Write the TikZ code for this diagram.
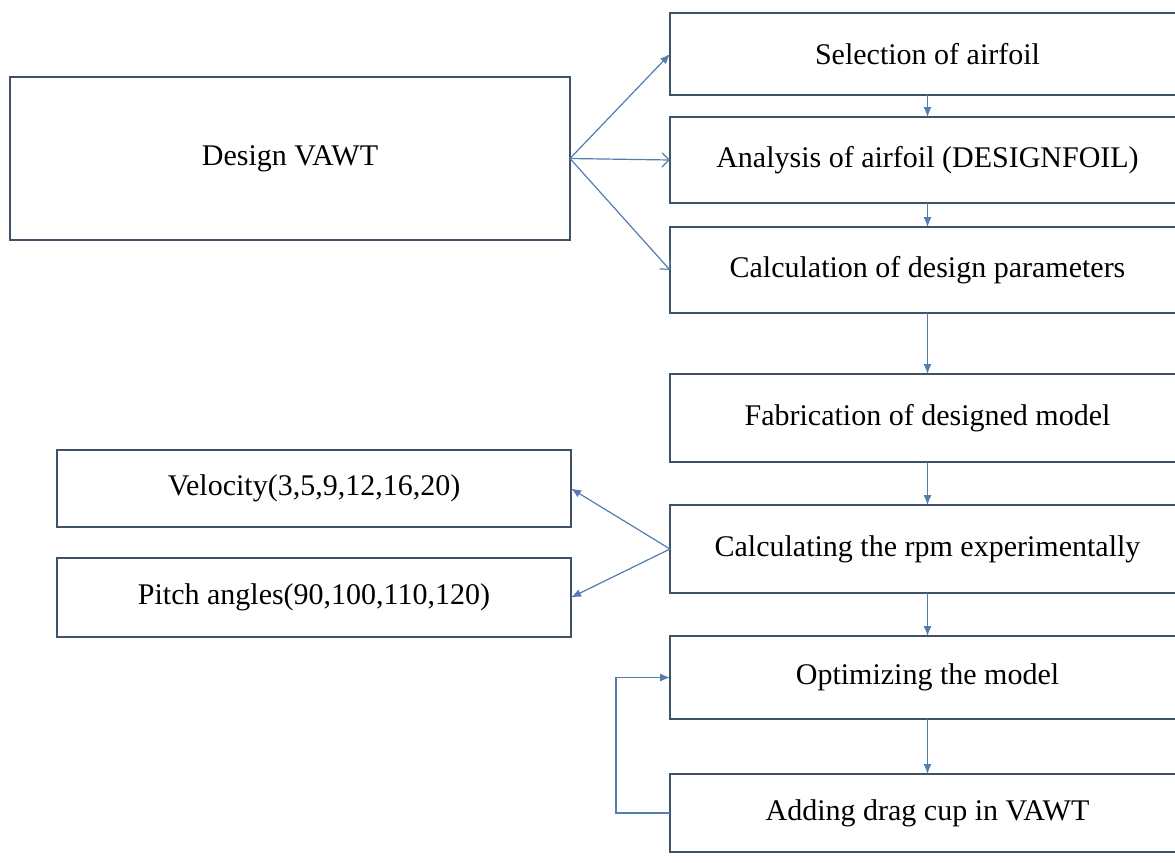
\documentclass[tikz,border=0pt]{standalone}
\usepackage{fontspec}
\setmainfont{Liberation Serif}
\usepackage{tikz}
\usetikzlibrary{arrows.meta,positioning}
\definecolor{BoxEdge}{RGB}{62,82,106}
\definecolor{FlowBlue}{RGB}{84,124,172}

\begin{document}
\begin{tikzpicture}[
    x=1pt, y=-1pt,
    node distance=22pt,
    box/.style={
      draw=BoxEdge,
      line width=2.6pt,
      fill=white,
      align=center,
      font=\fontsize{30}{35}\selectfont,
      minimum width=515pt,
      minimum height=84pt,
      inner sep=2pt,
      outer sep=0pt
    },
    arrow/.style={-{Latex[length=10pt,width=8pt]}, draw=FlowBlue, line width=1.2pt},
    openarrow/.style={-{Straight Barb[length=7pt,width=14pt]}, draw=FlowBlue, line width=1.2pt}
  ]
    \useasboundingbox (0,0) rectangle (1175,862);

    % main column
    \node[box, anchor=north west, minimum height=82pt] (select) at (670,13)
      {Selection of airfoil};
    \node[box, below=22pt of select, minimum height=86pt] (analysis)
      {Analysis of airfoil (DESIGNFOIL)};
    \node[box, below=24pt of analysis, minimum height=86pt] (calc)
      {Calculation of design parameters};
    \node[box, below=61pt of calc, minimum height=88pt] (fab)
      {Fabrication of designed model};
    \node[box, below=43pt of fab, minimum height=88pt] (rpm)
      {Calculating the rpm experimentally};
    \node[box, below=43pt of rpm, minimum height=83pt] (optim)
      {Optimizing the model};
    \node[box, below=55pt of optim, minimum height=78pt] (dragcup)
      {Adding drag cup in VAWT};

    % left side
    \node[box, anchor=north west, minimum width=560pt, minimum height=163pt]
      (design) at (10,77) {Design VAWT};
    \node[box, anchor=north west, minimum width=514pt, minimum height=77pt]
      (velocity) at (57,450) {Velocity(3,5,9,12,16,20)};
    \node[box, below=31pt of velocity, minimum width=514pt, minimum height=79pt]
      (pitch) {Pitch angles(90,100,110,120)};

    \draw[arrow] (design.east) -- (select.west);
    \draw[openarrow] (design.east) -- (analysis.west);
    \draw[openarrow] (design.east) -- (calc.west);

    \draw[arrow] (select) -- (analysis);
    \draw[arrow] (analysis) -- (calc);
    \draw[arrow] (calc) -- (fab);
    \draw[arrow] (fab) -- (rpm);
    \draw[arrow] (rpm) -- (optim);
    \draw[arrow] (optim) -- (dragcup);

    \draw[arrow] (rpm.west) -- (velocity.east);
    \draw[arrow] (rpm.west) -- (pitch.east);

    \draw[arrow] (dragcup.west) -- ++(-54pt,0) |- (optim.west);
  \end{tikzpicture}
\end{document}
